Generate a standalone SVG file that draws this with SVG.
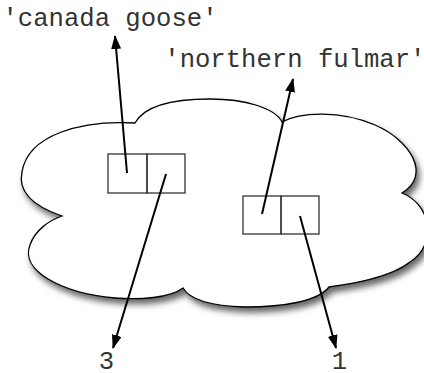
<svg xmlns="http://www.w3.org/2000/svg" width="424" height="373" viewBox="0 0 424 373">
<style>
.lbl{font-family:"Liberation Mono","Courier New",monospace;font-size:25.6px;fill:#333}
.cell{fill:none;stroke:#333;stroke-width:1.3}
.conn{stroke:#000;stroke-width:2;fill:none}
</style>
<defs>
<filter id="shadow" x="-20%" y="-20%" width="140%" height="150%">
<feDropShadow dx="3" dy="5" stdDeviation="3" flood-color="#000" flood-opacity="0.6"/>
</filter>
<marker id="arrow" viewBox="0 0 14 10" markerWidth="14" markerHeight="10" markerUnits="userSpaceOnUse" refX="13" refY="5" orient="auto">
<path d="M0,0 L14,5 L0,10 z" fill="#000"/>
</marker>
</defs>
<rect width="424" height="373" fill="#fff"/>
<g id="cloud">
<path d="M62,216 C30,205 18,190 22,172 C28,135 80,120 135,123 C145,105 175,99 210,99 C245,99 275,108 282,122 C300,112 340,110 375,125 C410,140 432,175 402,193 C432,205 437,245 410,262 C390,278 350,284 329,287 C318,301 285,307 245,307 C210,306 190,300 183,288 C170,298 140,300 115,298 C60,293 20,270 30,245 C35,230 50,220 62,216 Z" fill="#fff" stroke="#000" stroke-width="1.3" filter="url(#shadow)"/>
</g>
<g id="node1">
<rect class="cell" x="108" y="154" width="39" height="39"/>
<rect class="cell" x="147" y="154" width="38" height="39"/>
</g>
<g id="node2">
<rect class="cell" x="243" y="196" width="38" height="38"/>
<rect class="cell" x="281" y="196" width="38" height="38"/>
</g>
<g id="label-canada"><text class="lbl" x="2.5" y="26">'canada goose'</text></g>
<g id="label-fulmar"><text class="lbl" x="164.3" y="67">'northern fulmar'</text></g>
<g id="label-3"><text class="lbl" x="106.5" y="369" text-anchor="middle">3</text></g>
<g id="label-1"><text class="lbl" x="339.5" y="369" text-anchor="middle">1</text></g>
<g id="connectors">
<line class="conn" x1="127" y1="173" x2="115" y2="36" marker-end="url(#arrow)"/>
<line class="conn" x1="166" y1="174" x2="113" y2="348" marker-end="url(#arrow)"/>
<line class="conn" x1="262" y1="214" x2="293" y2="79" marker-end="url(#arrow)"/>
<line class="conn" x1="300" y1="216" x2="336" y2="348" marker-end="url(#arrow)"/>
</g>
</svg>
